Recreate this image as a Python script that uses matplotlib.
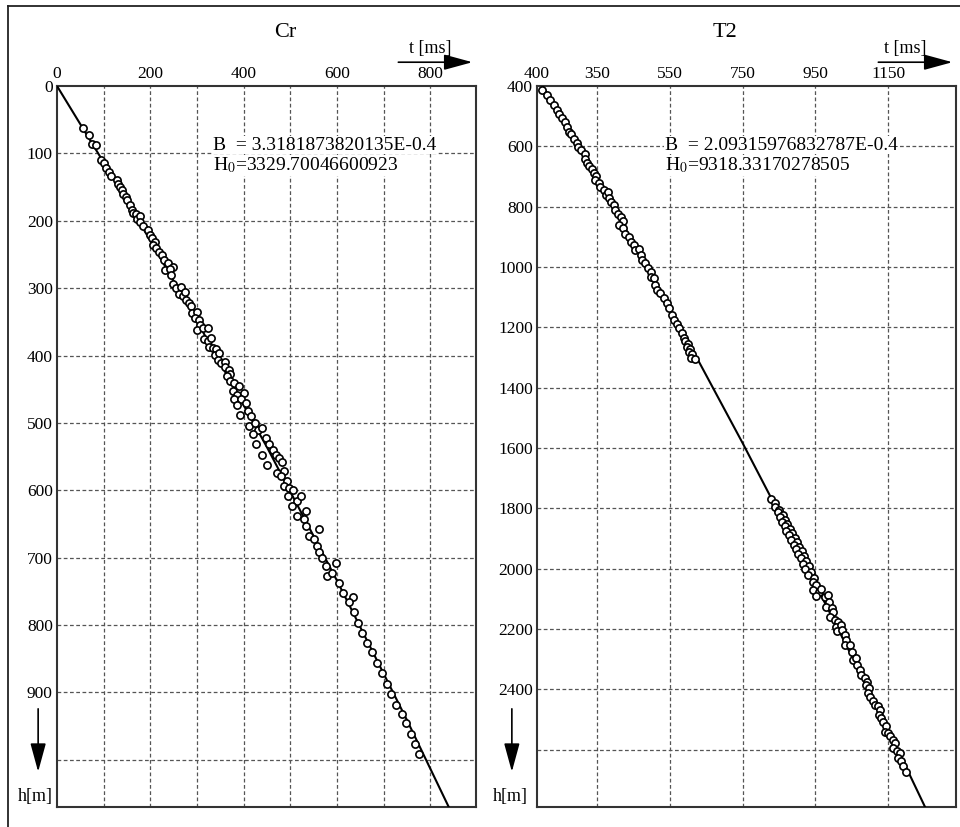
import numpy as np
import matplotlib
matplotlib.use('Agg')
import matplotlib.pyplot as plt
from matplotlib.lines import Line2D

plt.rcParams['font.family'] = ['Liberation Serif', 'DejaVu Serif']
plt.rcParams['mathtext.fontset'] = 'stix'

# ---- Cr: travel time t [ms] vs depth h [m] ----
cr_t = [55, 68, 76, 84, 94, 100, 105, 111, 115, 128, 130, 134, 139, 142, 148, 150,
        157, 160, 162, 169, 172, 178, 178, 184, 194, 199, 203, 210, 206, 213, 219,
        224, 229, 238, 248, 231, 243, 245, 248, 256, 265, 262, 270, 274, 277, 283,
        288, 290, 299, 295, 304, 307, 299, 313, 323, 316, 323, 331, 326, 334, 341,
        338, 348, 345, 352, 359, 361, 368, 371, 364, 370, 380, 389, 377, 385, 401,
        380, 394, 385, 405, 409, 392, 416, 411, 425, 430, 440, 448, 419, 455, 426,
        440, 451, 462, 469, 475, 483, 487, 472, 480, 494, 487, 497, 506, 496, 515,
        524, 504, 533, 515, 529, 534, 561, 540, 551, 558, 561, 568, 576, 597, 579,
        590, 604, 614, 634, 625, 636, 645, 653, 664, 675, 685, 696, 707, 716, 726,
        739, 749, 759, 767, 776]
cr_h = [63, 73, 86, 88, 110, 115, 122, 128, 134, 139, 145, 150, 154, 160, 164, 169,
        177, 184, 189, 190, 197, 193, 202, 208, 214, 221, 226, 231, 236, 241, 246,
        251, 258, 263, 269, 273, 271, 280, 294, 300, 298, 308, 312, 305, 317, 322,
        326, 337, 335, 345, 347, 354, 362, 359, 359, 376, 379, 374, 387, 389, 391,
        399, 396, 406, 411, 409, 417, 421, 428, 431, 438, 441, 445, 453, 458, 456,
        464, 465, 473, 470, 483, 488, 490, 505, 500, 510, 507, 522, 517, 531, 532,
        547, 562, 540, 547, 552, 558, 572, 574, 579, 586, 594, 596, 600, 608, 616,
        609, 623, 631, 638, 643, 653, 658, 668, 673, 683, 692, 700, 712, 708, 727,
        722, 737, 752, 759, 766, 781, 797, 812, 826, 840, 856, 871, 887, 902, 918,
        932, 946, 961, 976, 991]
cr_fit_t = [0, 150, 300, 450, 600, 750, 850]
cr_fit_h = [0, 170, 349, 536, 734, 941, 1085]

# ---- T2 ----
t2_t = [200, 212, 222, 231, 240, 246, 254, 261, 267, 272, 279, 286, 295, 299, 307,
        316, 318, 322, 329, 336, 341, 347, 345, 354, 359, 368, 375, 380, 384, 387,
        396, 400, 408, 417, 420, 409, 420, 428, 437, 444, 451, 455, 464, 472, 474,
        483, 490, 499, 497, 506, 510, 515, 524, 533, 543, 547, 556, 561, 570, 574,
        584, 588, 592, 600, 596, 606, 603, 612, 609, 618,
        829, 840, 838, 850, 846, 860, 852, 866, 858, 872, 865, 880, 870, 886, 878,
        893, 884, 899, 890, 905, 896, 912, 902, 918, 909, 925, 915, 931, 922, 938,
        930, 945,
        943, 952, 943, 960, 966, 975, 952, 984, 987, 980, 994, 998, 991, 1003, 1012,
        1007, 1021, 1009, 1024, 1030, 1035, 1030, 1044, 1049, 1053, 1061, 1064, 1072,
        1076, 1085, 1092, 1088, 1097, 1094, 1101, 1108, 1113, 1122, 1127, 1125, 1131,
        1136, 1143, 1140, 1149, 1156, 1162, 1168, 1163, 1173, 1182, 1177, 1186, 1191,
        1198]
t2_h = [412, 431, 448, 462, 478, 492, 506, 520, 536, 553, 558, 575, 588, 602, 613,
        627, 641, 654, 665, 674, 687, 698, 712, 723, 735, 745, 760, 751, 771, 786,
        795, 812, 823, 834, 848, 861, 872, 889, 900, 916, 927, 944, 941, 960, 977,
        988, 1002, 1016, 1032, 1037, 1060, 1076, 1087, 1104, 1120, 1137, 1159, 1175,
        1189, 1203, 1219, 1234, 1245, 1255, 1265, 1272, 1283, 1290, 1300, 1306,
        1770, 1782, 1795, 1805, 1812, 1822, 1830, 1838, 1846, 1852, 1860, 1868, 1875,
        1882, 1890, 1897, 1905, 1912, 1920, 1928, 1935, 1942, 1950, 1958, 1966, 1975,
        1984, 1992, 2000, 2010, 2020, 2030,
        2044, 2055, 2071, 2077, 2066, 2093, 2091, 2088, 2110, 2126, 2132, 2143, 2159,
        2170, 2176, 2193, 2187, 2206, 2203, 2220, 2236, 2253, 2253, 2275, 2303, 2297,
        2319, 2336, 2352, 2363, 2374, 2385, 2396, 2413, 2424, 2437, 2451, 2455, 2468,
        2484, 2495, 2507, 2523, 2540, 2545, 2556, 2567, 2578, 2594, 2606, 2611, 2628,
        2639, 2655, 2675]
t2_fit_t = [150, 300, 450, 600, 750, 900, 1050, 1200, 1300]
t2_fit_h = [297, 604, 920, 1247, 1584, 1932, 2291, 2661, 2914]

W, H = 960, 827
fig = plt.figure(figsize=(W / 100, H / 100), dpi=100, facecolor='white')

# outer frame (left and top edges visible in the picture)
fig.add_artist(Line2D([8 / W, 8 / W], [0, 1 - 6 / H], color='#222222', lw=1.3))
fig.add_artist(Line2D([8 / W, 1], [1 - 6 / H, 1 - 6 / H], color='#222222', lw=1.3))

grid_kw = dict(color='#555555', lw=0.9, linestyle=(0, (3, 2)))
text_kw = dict(fontsize=14, ha='left', va='center', zorder=5,
               bbox=dict(facecolor='white', edgecolor='none', pad=0.5))


def panel(rect, xlim, ylim, xgrid, xticks, xlabels, ygrid, yticks, ylabels,
          t, h, ft, fh, title, btxt, htxt, tx):
    ax = fig.add_axes(rect)
    ax.set_xlim(*xlim)
    ax.set_ylim(*ylim)
    for g in xgrid:
        ax.axvline(g, **grid_kw, zorder=1)
    for g in ygrid:
        ax.axhline(g, **grid_kw, zorder=1)
    ax.plot(ft, fh, color='black', lw=1.5, zorder=3)
    ax.plot(t, h, linestyle='none', marker='o', ms=5.2, mfc='white',
            mec='black', mew=1.2, zorder=4)
    ax.xaxis.tick_top()
    ax.set_xticks(xticks)
    ax.set_xticklabels(xlabels)
    ax.set_yticks(yticks)
    ax.set_yticklabels(ylabels)
    ax.tick_params(length=0, labelsize=12.5, pad=3)
    for s in ax.spines.values():
        s.set_color('#333333')
        s.set_linewidth(1.5)
    ax.text(0.544 if title == 'Cr' else 0.448, 1.074, title, transform=ax.transAxes,
            fontsize=16, ha='center', va='center')
    ax.annotate('', xy=(0.998, 1.033), xytext=(0.808, 1.033), xycoords='axes fraction',
                arrowprops=dict(arrowstyle='-|>,head_length=1.1,head_width=0.3',
                                color='black', lw=1.2, mutation_scale=16))
    ax.text(0.89 if title == 'Cr' else 0.878, 1.052, 't [ms]', transform=ax.transAxes,
            fontsize=13, ha='center', va='center')
    ax.annotate('', xy=(-0.045 if title == 'Cr' else -0.06, 0.045),
                xytext=(-0.045 if title == 'Cr' else -0.06, 0.14),
                xycoords='axes fraction',
                arrowprops=dict(arrowstyle='-|>,head_length=1.1,head_width=0.3',
                                color='black', lw=1.2, mutation_scale=16))
    ax.text(-0.052 if title == 'Cr' else -0.064, 0.014, 'h[m]', transform=ax.transAxes,
            fontsize=13, ha='center', va='center')
    ax.text(tx, 0.918, btxt, transform=ax.transAxes, **text_kw)
    ax.text(tx, 0.890, htxt, transform=ax.transAxes, **text_kw)
    return ax


panel([57 / W, 1 - 807 / H, 419 / W, 721 / H], (0, 898), (1070, 0),
      list(range(100, 900, 100)), [0, 200, 400, 600, 800],
      ['0', '200', '400', '600', '800'],
      list(range(100, 1100, 100)), list(range(0, 1000, 100)),
      [str(v) for v in range(0, 1000, 100)],
      cr_t, cr_h, cr_fit_t, cr_fit_h, 'Cr',
      'B  = 3.3181873820135E-0.4', 'H$_0$=3329.70046600923', 0.372)

panel([537 / W, 1 - 807 / H, 419 / W, 721 / H], (185, 1336), (2790, 400),
      [350, 550, 750, 950, 1150], [185, 350, 550, 750, 950, 1150],
      ['400', '350', '550', '750', '950', '1150'],
      list(range(600, 2800, 200)), list(range(400, 2600, 200)),
      [str(v) for v in range(400, 2600, 200)],
      t2_t, t2_h, t2_fit_t, t2_fit_h, 'T2',
      'B  = 2.09315976832787E-0.4', 'H$_0$=9318.33170278505', 0.305)

fig.savefig('out.png', dpi=100, facecolor='white')
